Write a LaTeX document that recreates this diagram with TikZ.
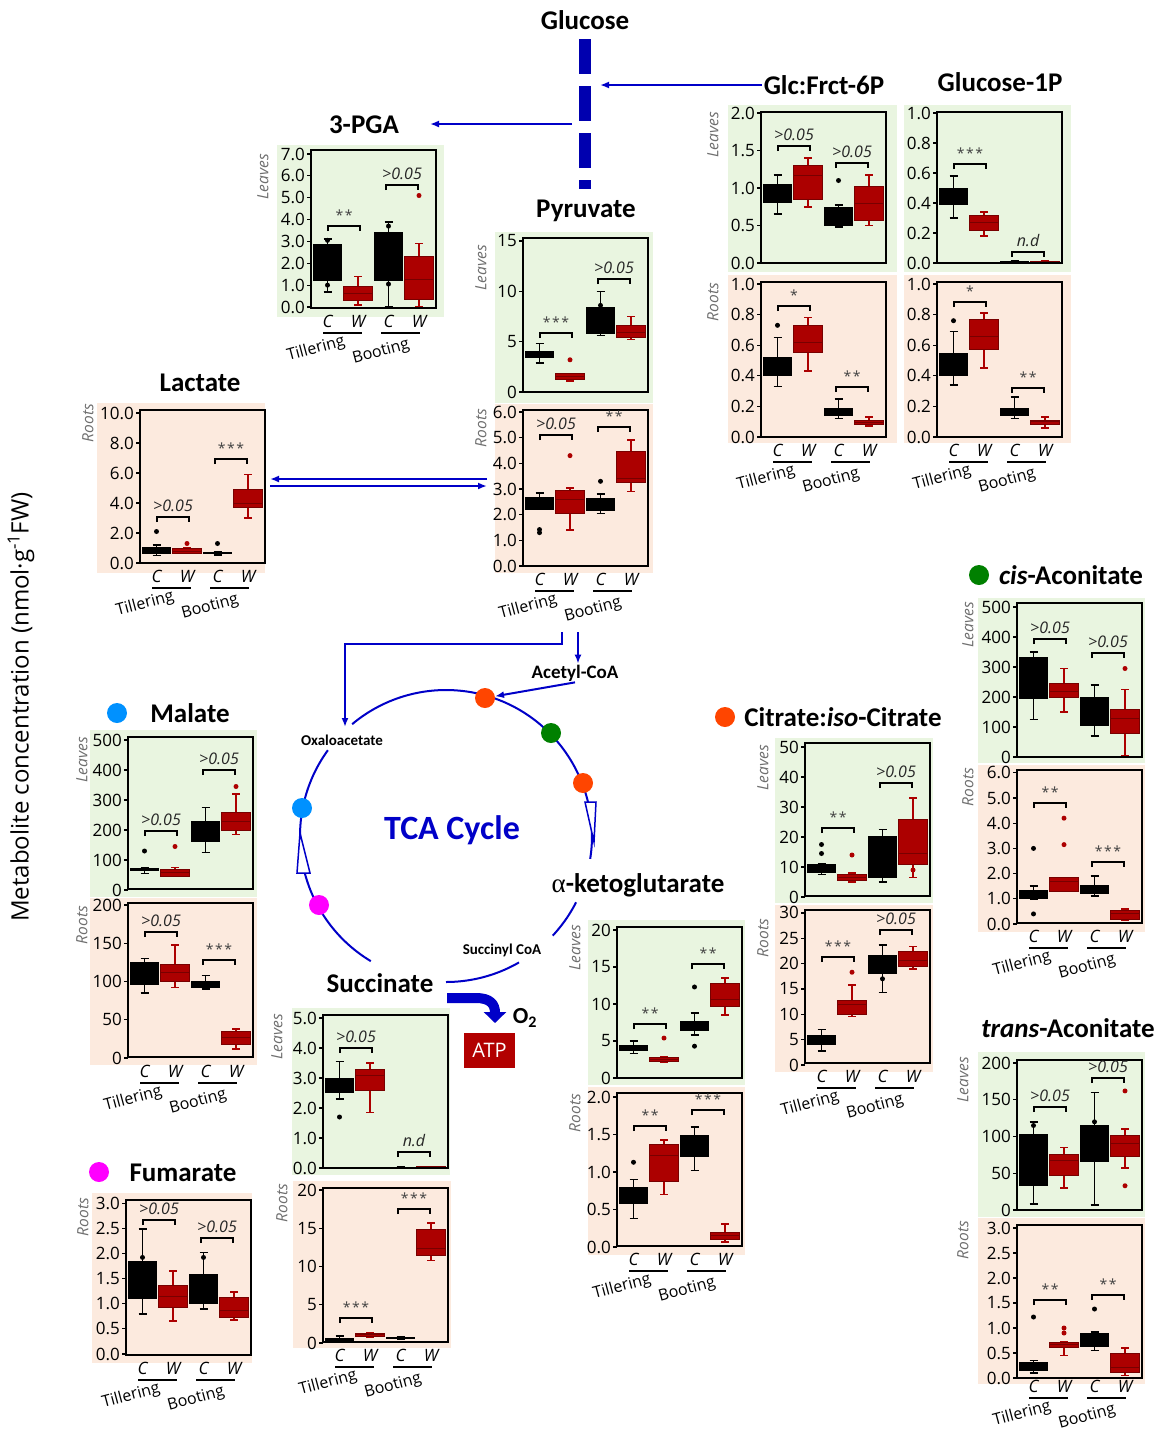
\documentclass[tikz,border=0pt]{standalone}
\usepackage{fontspec}
\setmainfont{Open Sans}
\newfontfamily\calfont{Carlito}
\newfontfamily\grkfont{Liberation Serif}
\usetikzlibrary{arrows.meta}
\definecolor{leafbg}{RGB}{233,245,224}
\definecolor{rootbg}{RGB}{252,234,222}
\definecolor{boxred}{RGB}{172,0,0}
\definecolor{boxdark}{RGB}{120,0,0}
\definecolor{pathblue}{RGB}{0,0,200}
\definecolor{barblue}{RGB}{0,0,175}
\definecolor{dotorange}{RGB}{255,69,0}
\definecolor{dotgreen}{RGB}{0,128,0}
\definecolor{dotblue}{RGB}{0,145,255}
\definecolor{dotmag}{RGB}{255,0,255}
\definecolor{atpred}{RGB}{178,0,0}
\definecolor{sidegray}{RGB}{110,110,110}
\newcommand\fsz[1]{\fontsize{#1}{#1}\selectfont}
\def\PL{0}
\tikzset{
  title/.style={font=\calfont\bfseries\fsz{27}, inner sep=2pt},
  ticklab/.style={anchor=east, font=\fsz{17}, inner sep=1.5pt},
  tickln/.style={line width=1.2pt, black},
  frame/.style={draw=black, line width=1.5pt},
  whk/.style={line width=1.6pt, black},
  whr/.style={line width=1.6pt, boxred},
  dotk/.style={circle, fill=black, inner sep=0pt, minimum size=5pt},
  dotr/.style={circle, fill=boxred, inner sep=0pt, minimum size=5pt},
  brk/.style={line width=1.5pt, black},
  sig/.style={anchor=base, font=\itshape\fsz{16}, inner sep=0pt, text=black!85},
  xl/.style={font=\itshape\fsz{17}, inner sep=0pt},
  uline/.style={line width=1.5pt, black},
  stage/.style={font=\fsz{16}, rotate=15, inner sep=0pt},
  side/.style={rotate=90, font=\itshape\fsz{15.5}, text=sidegray, inner sep=0pt},
  mdot/.style={circle, inner sep=0pt, minimum size=20pt, draw=none},
  arr/.style={line width=2pt, pathblue, -{Latex[length=9pt,width=7pt]}},
  cyc/.style={line width=2pt, pathblue},
  small/.style={font=\calfont\bfseries\fsz{15}, inner sep=1pt},
}
\newcommand\tkY[2]{\draw[tickln] (\PL,#1) -- ({\PL-4},#1) node[ticklab]{#2};}
\newcommand\bxK[5]{%
  \draw[whk] ({\PL+16.5+30.5*#1},#4) -- ({\PL+16.5+30.5*#1},#5)
    ({\PL+12.5+30.5*#1},#4) -- ({\PL+20.5+30.5*#1},#4)
    ({\PL+12.5+30.5*#1},#5) -- ({\PL+20.5+30.5*#1},#5);
  \fill[black] ({\PL+2+30.5*#1},#2) rectangle ({\PL+31+30.5*#1},#3);}
\newcommand\bxR[6]{%
  \draw[whr] ({\PL+16.5+30.5*#1},#4) -- ({\PL+16.5+30.5*#1},#5)
    ({\PL+12.5+30.5*#1},#4) -- ({\PL+20.5+30.5*#1},#4)
    ({\PL+12.5+30.5*#1},#5) -- ({\PL+20.5+30.5*#1},#5);
  \filldraw[fill=boxred, draw=boxdark, line width=0.8pt] ({\PL+2+30.5*#1},#2) rectangle ({\PL+31+30.5*#1},#3);
  \draw[boxdark, line width=1pt] ({\PL+2+30.5*#1},#6) -- ({\PL+31+30.5*#1},#6);}
\newcommand\dtK[2]{\node[dotk] at ({\PL+16.5+30.5*#1},#2) {};}
\newcommand\dtR[2]{\node[dotr] at ({\PL+16.5+30.5*#1},#2) {};}
\newcommand\sigbr[3]{%
  \draw[brk] ({\PL+17+58*#1},{#2+5}) -- ({\PL+17+58*#1},#2) -- ({\PL+49+58*#1},#2) -- ({\PL+49+58*#1},{#2+5});
  \node[sig] at ({\PL+33+58*#1},{#2-6}) {#3};}
\newcommand\xlab[1]{%
  \node[xl] at ({\PL+16.5},{#1+13}) {C};
  \node[xl] at ({\PL+47},{#1+13}) {W};
  \node[xl] at ({\PL+77.5},{#1+13}) {C};
  \node[xl] at ({\PL+108},{#1+13}) {W};
  \draw[uline] ({\PL+12},{#1+25}) -- ({\PL+51},{#1+25}) ({\PL+70},{#1+25}) -- ({\PL+109},{#1+25});
  \node[stage] at ({\PL+5},{#1+41}) {Tillering};
  \node[stage] at ({\PL+70},{#1+44}) {Booting};}
\newcommand\slab[3]{\node[side] at (#1,#2) {#3};}
\newcommand\frm[2]{\draw[frame] (\PL,#1) rectangle ({\PL+125},#2);}
\newcommand\stars[1]{{\upshape\fsz{14}\color{black!75}#1}}
\newcommand\stA{\stars{*}}
\newcommand\stB{\stars{*\kern1.5pt*}}
\newcommand\stC{\stars{*\kern1.5pt*\kern1.5pt*}}
\newcommand\pv{>0.05}

\begin{document}
\begin{tikzpicture}[x=1pt,y=-1pt]
\fill[white] (0,0) rectangle (1162,1433);
\useasboundingbox (0,0) rectangle (1162,1433);

% ---------------- titles ----------------
\node[title] (glucose) at (585,20) {Glucose};
\node[title] (pga) at (364,125) {3-PGA};
\node[title] (pyr) at (586,211) {Pyruvate};
\node[title] (glc) at (824,85) {Glc:Frct-6P};
\node[title] (g1p) at (1000,82) {Glucose-1P};
\node[title] (lac) at (200,383) {Lactate};
\node[mdot, fill=dotgreen] (cisdot) at (979,575) {};
\node[title] (cis) at (1071,575) {\textit{cis}-Aconitate};
\node[mdot, fill=dotblue] (maldot) at (117,713) {};
\node[title] (mal) at (190,713) {Malate};
\node[mdot, fill=dotorange] (citdot) at (725,717) {};
\node[title] (cit) at (843,717) {Citrate:\textit{iso}-Citrate};
\node[title] (akg) at (638,885) {{\grkfont\mdseries α}-ketoglutarate};
\node[title] (suc) at (380,983) {Succinate};
\node[mdot, fill=dotmag] (fumdot) at (99,1172) {};
\node[title] (fum) at (183,1173) {Fumarate};
\node[title] (trans) at (1068,1028) {\textit{trans}-Aconitate};
\node[rotate=90, font=\fsz{24}, inner sep=0pt] (ylab) at (21,707) {Metabolite concentration (nmol·g\textsuperscript{-1}FW)};

% ---------------- glycolysis connectors ----------------
\coordinate (barTop) at (585,39);
\coordinate (barBot) at (585,189);
\draw[barblue, line width=12pt, dash pattern=on 35pt off 12pt] (barTop) -- (barBot);
\coordinate (glcIn) at (600,85);
\draw[arr] (glc.west) -- (glcIn);
\coordinate (pgaOut) at (572,124);
\coordinate (pgaIn) at (430,124);
\draw[arr] (pgaOut) -- (pgaIn);
\coordinate (lacR) at (270,479);
\coordinate (pyrL) at (487,479);
\draw[arr] (pyrL) -- (lacR);
\draw[arr] ([yshift=-7pt]lacR) -- ([yshift=-7pt]pyrL);

% ================= 3-PGA =================
\def\PL{311}
\fill[leafbg] (277,145) rectangle (444,317);
\begin{scope}[shift={(0,307)},yscale=-21.86]
\foreach \v/\t in {0/0.0,1/1.0,2/2.0,3/3.0,4/4.0,5/5.0,6/6.0,7/7.0}{\tkY{\v}{\t}}
\bxK{0}{1.2}{2.9}{0.7}{3.1}\dtK{0}{1.0}\dtK{0}{3.05}
\bxR{1}{0.3}{0.95}{0.1}{1.4}{0.6}
\bxK{2}{1.2}{3.45}{0}{3.9}\dtK{2}{3.7}\dtK{2}{1.05}
\bxR{3}{0.35}{2.3}{0}{2.9}{1.25}\dtR{3}{5.1}
\end{scope}
\frm{150}{308}
\sigbr{0}{226}{\stB}
\sigbr{1}{185}{\pv}
\slab{263}{177}{Leaves}
\xlab{308}

% ================= Pyruvate =================
\def\PL{523}
\fill[leafbg] (495,232) rectangle (653,403);
\begin{scope}[shift={(0,392)},yscale=-10.07]
\foreach \v/\t in {0/0,5/5,10/10,15/15}{\tkY{\v}{\t}}
\bxK{0}{3.4}{4.1}{2.9}{4.8}
\bxR{1}{1.3}{1.8}{1.1}{1.8}{1.5}\dtR{1}{3.2}
\bxK{2}{5.8}{8.4}{5.6}{10}\dtK{2}{8.6}
\bxR{3}{5.4}{6.6}{5.2}{7.5}{5.9}
\end{scope}
\frm{238}{392}
\sigbr{0}{333}{\stC}
\sigbr{1}{279}{\pv}
\slab{481}{268}{Leaves}
\fill[rootbg] (495,404) rectangle (653,573);
\begin{scope}[shift={(0,566)},yscale=-25.67]
\foreach \v/\t in {0/0.0,1/1.0,2/2.0,3/3.0,4/4.0,5/5.0,6/6.0}{\tkY{\v}{\t}}
\bxK{0}{2.2}{2.7}{2.2}{2.85}\dtK{0}{1.3}\dtK{0}{1.42}
\bxR{1}{2.05}{2.95}{1.4}{3.05}{2.6}\dtR{1}{4.3}
\bxK{2}{2.15}{2.65}{2.05}{2.8}\dtK{2}{3.3}
\bxR{3}{3.25}{4.45}{2.9}{4.9}{3.4}
\end{scope}
\frm{410}{566}
\sigbr{0}{435}{\pv}
\sigbr{1}{427}{\stB}
\slab{481}{428}{Roots}
\xlab{566}

% ================= Glc:Frct-6P =================
\def\PL{761}
\fill[leafbg] (728,105) rectangle (897,272);
\begin{scope}[shift={(0,263)},yscale=-75]
\foreach \v/\t in {0/0.0,0.5/0.5,1/1.0,1.5/1.5,2/2.0}{\tkY{\v}{\t}}
\bxK{0}{0.8}{1.05}{0.65}{1.17}
\bxR{1}{0.85}{1.3}{0.75}{1.4}{1.17}
\bxK{2}{0.5}{0.75}{0.48}{0.77}\dtK{2}{1.1}
\bxR{3}{0.57}{1.02}{0.5}{1.17}{0.8}
\end{scope}
\frm{112}{263}
\sigbr{0}{146}{\pv}
\sigbr{1}{163}{\pv}
\slab{713}{135}{Leaves}
\fill[rootbg] (728,275) rectangle (897,443);
\begin{scope}[shift={(0,437)},yscale=-153]
\foreach \v/\t in {0/0.0,0.2/0.2,0.4/0.4,0.6/0.6,0.8/0.8,1/1.0}{\tkY{\v}{\t}}
\bxK{0}{0.4}{0.52}{0.33}{0.65}\dtK{0}{0.73}
\bxR{1}{0.55}{0.73}{0.43}{0.78}{0.62}
\bxK{2}{0.14}{0.19}{0.12}{0.25}
\bxR{3}{0.08}{0.11}{0.07}{0.13}{0.095}
\end{scope}
\frm{282}{437}
\sigbr{0}{306}{\stA}
\sigbr{1}{387}{\stB}
\slab{713}{302}{Roots}
\xlab{437}

% ================= Glucose-1P =================
\def\PL{937}
\fill[leafbg] (904,105) rectangle (1071,272);
\begin{scope}[shift={(0,263)},yscale=-150]
\foreach \v/\t in {0/0.0,0.2/0.2,0.4/0.4,0.6/0.6,0.8/0.8,1/1.0}{\tkY{\v}{\t}}
\bxK{0}{0.39}{0.5}{0.3}{0.58}
\bxR{1}{0.22}{0.32}{0.18}{0.34}{0.27}
\bxK{2}{0}{0.012}{0}{0.012}
\bxR{3}{0}{0.012}{0}{0.012}{0.006}
\end{scope}
\frm{112}{263}
\sigbr{0}{164}{\stC}
\sigbr{1}{252}{n.d}
\fill[rootbg] (904,275) rectangle (1071,443);
\begin{scope}[shift={(0,437)},yscale=-153]
\foreach \v/\t in {0/0.0,0.2/0.2,0.4/0.4,0.6/0.6,0.8/0.8,1/1.0}{\tkY{\v}{\t}}
\bxK{0}{0.4}{0.55}{0.34}{0.69}\dtK{0}{0.76}
\bxR{1}{0.57}{0.77}{0.45}{0.81}{0.66}
\bxK{2}{0.14}{0.19}{0.12}{0.26}
\bxR{3}{0.08}{0.11}{0.06}{0.13}{0.1}
\end{scope}
\frm{282}{437}
\sigbr{0}{302}{\stA}
\sigbr{1}{388}{\stB}
\xlab{437}

% ================= Lactate =================
\def\PL{140}
\fill[rootbg] (97,403) rectangle (265,573);
\begin{scope}[shift={(0,563)},yscale=-15]
\foreach \v/\t in {0/0.0,2/2.0,4/4.0,6/6.0,8/8.0,10/10.0}{\tkY{\v}{\t}}
\bxK{0}{0.6}{1.1}{0.5}{1.2}\dtK{0}{2.1}
\bxR{1}{0.65}{0.95}{0.65}{1.0}{0.8}\dtR{1}{1.3}
\bxK{2}{0.6}{0.75}{0.55}{0.75}\dtK{2}{1.3}
\bxR{3}{3.7}{4.9}{3.0}{5.9}{4.0}
\end{scope}
\frm{410}{563}
\sigbr{0}{517}{\pv}
\sigbr{1}{459}{\stC}
\slab{88}{423}{Roots}
\xlab{563}

% ================= cis-Aconitate =================
\def\PL{1017}
\fill[leafbg] (978,598) rectangle (1145,763);
\begin{scope}[shift={(0,757)},yscale=-0.3]
\foreach \v in {0,100,200,300,400,500}{\tkY{\v}{\v}}
\bxK{0}{195}{335}{125}{350}
\bxR{1}{200}{245}{150}{295}{220}
\bxK{2}{105}{200}{70}{240}
\bxR{3}{80}{160}{5}{225}{130}\dtR{3}{295}
\end{scope}
\frm{603}{757}
\sigbr{0}{639}{\pv}
\sigbr{1}{653}{\pv}
\slab{968}{625}{Leaves}
\fill[rootbg] (978,765) rectangle (1145,932);
\begin{scope}[shift={(0,924)},yscale=-25.2]
\foreach \v/\t in {0/0.0,1/1.0,2/2.0,3/3.0,4/4.0,5/5.0,6/6.0}{\tkY{\v}{\t}}
\bxK{0}{1.0}{1.35}{1.0}{1.5}\dtK{0}{3.0}\dtK{0}{0.4}
\bxR{1}{1.3}{1.85}{1.3}{1.85}{1.7}\dtR{1}{3.15}\dtR{1}{4.2}
\bxK{2}{1.2}{1.55}{1.1}{1.9}
\bxR{3}{0.2}{0.55}{0.15}{0.6}{0.4}
\end{scope}
\frm{770}{923}
\sigbr{0}{803}{\stB}
\sigbr{1}{862}{\stC}
\slab{968}{787}{Roots}
\xlab{923}

% ================= Malate =================
\def\PL{128}
\fill[leafbg] (90,730) rectangle (257,897);
\begin{scope}[shift={(0,890)},yscale=-0.3]
\foreach \v in {0,100,200,300,400,500}{\tkY{\v}{\v}}
\bxK{0}{65}{75}{55}{75}\dtK{0}{130}
\bxR{1}{45}{70}{45}{75}{60}\dtR{1}{145}
\bxK{2}{160}{230}{125}{275}
\bxR{3}{200}{260}{185}{320}{230}\dtR{3}{345}
\end{scope}
\frm{737}{889}
\sigbr{0}{831}{\pv}
\sigbr{1}{770}{\pv}
\slab{82}{760}{Leaves}
\fill[rootbg] (90,898) rectangle (257,1065);
\begin{scope}[shift={(0,1058)},yscale=-0.765]
\foreach \v in {0,50,100,150,200}{\tkY{\v}{\v}}
\bxK{0}{95}{125}{85}{130}
\bxR{1}{100}{122}{92}{148}{112}
\bxK{2}{92}{101}{90}{108}
\bxR{3}{18}{35}{12}{38}{27}
\end{scope}
\frm{903}{1057}
\sigbr{0}{932}{\pv}
\sigbr{1}{960}{\stC}
\slab{82}{925}{Roots}
\xlab{1058}

% ================= Citrate =================
\def\PL{805}
\fill[leafbg] (775,738) rectangle (933,903);
\begin{scope}[shift={(0,897)},yscale=-3]
\foreach \v in {0,10,20,30,40,50}{\tkY{\v}{\v}}
\bxK{0}{8}{11}{7.5}{11}\dtK{0}{14.5}\dtK{0}{17.5}
\bxR{1}{5.5}{7.5}{5}{8}{6.5}\dtR{1}{14}
\bxK{2}{6.5}{20.5}{5}{22.5}
\bxR{3}{11}{26}{6.5}{33}{14.5}\dtR{3}{9}
\end{scope}
\frm{743}{896}
\sigbr{0}{828}{\stB}
\sigbr{1}{783}{\pv}
\slab{763}{768}{Leaves}
\fill[rootbg] (775,905) rectangle (933,1072);
\begin{scope}[shift={(0,1065)},yscale=-5.07]
\foreach \v in {0,5,10,15,20,25,30}{\tkY{\v}{\v}}
\bxK{0}{4}{6}{2.8}{7}
\bxR{1}{10}{12.8}{9.6}{15.8}{12}\dtR{1}{18.3}
\bxK{2}{18}{21.7}{14.3}{23.7}\dtK{2}{17}
\bxR{3}{19.5}{22.5}{18.9}{23.4}{20.7}
\end{scope}
\frm{910}{1063}
\sigbr{0}{957}{\stC}
\sigbr{1}{930}{\pv}
\slab{763}{938}{Roots}
\xlab{1063}

% ================= alpha-ketoglutarate =================
\def\PL{617}
\fill[leafbg] (588,920) rectangle (745,1085);
\begin{scope}[shift={(0,1078)},yscale=-7.4]
\foreach \v in {0,5,10,15,20}{\tkY{\v}{\v}}
\bxK{0}{3.6}{4.4}{3.3}{5.0}
\bxR{1}{2.2}{2.8}{2.1}{2.8}{2.5}\dtR{1}{5.4}
\bxK{2}{6.3}{7.7}{5.8}{8.8}\dtK{2}{12.3}\dtK{2}{4.3}
\bxR{3}{9.7}{12.8}{8.5}{13.5}{10.6}
\end{scope}
\frm{927}{1078}
\sigbr{0}{1024}{\stB}
\sigbr{1}{964}{\stB}
\slab{575}{948}{Leaves}
\fill[rootbg] (588,1087) rectangle (745,1255);
\begin{scope}[shift={(0,1247)},yscale=-75]
\foreach \v/\t in {0/0.0,0.5/0.5,1/1.0,1.5/1.5,2/2.0}{\tkY{\v}{\t}}
\bxK{0}{0.57}{0.8}{0.38}{0.9}\dtK{0}{1.13}
\bxR{1}{0.87}{1.37}{0.7}{1.43}{1.22}
\bxK{2}{1.2}{1.5}{1.02}{1.6}
\bxR{3}{0.1}{0.2}{0.07}{0.31}{0.15}
\end{scope}
\frm{1093}{1246}
\sigbr{0}{1126}{\stB}
\sigbr{1}{1110}{\stC}
\slab{575}{1113}{Roots}
\xlab{1246}

% ================= Succinate =================
\def\PL{323}
\fill[leafbg] (292,1008) rectangle (450,1175);
\begin{scope}[shift={(0,1168)},yscale=-30]
\foreach \v/\t in {0/0.0,1/1.0,2/2.0,3/3.0,4/4.0,5/5.0}{\tkY{\v}{\t}}
\bxK{0}{2.5}{3.0}{2.3}{3.55}\dtK{0}{1.7}
\bxR{1}{2.6}{3.3}{1.85}{3.5}{3.1}
\bxK{2}{0}{0.05}{0}{0.05}
\bxR{3}{0}{0.05}{0}{0.05}{0.02}
\end{scope}
\frm{1015}{1168}
\sigbr{0}{1048}{\pv}
\sigbr{1}{1152}{n.d}
\slab{277}{1037}{Leaves}
\fill[rootbg] (293,1181) rectangle (451,1348);
\begin{scope}[shift={(0,1343)},yscale=-7.65]
\foreach \v in {0,5,10,15,20}{\tkY{\v}{\v}}
\bxK{0}{0.3}{0.6}{0.1}{0.9}
\bxR{1}{0.9}{1.3}{0.8}{1.4}{1.1}
\bxK{2}{0.55}{0.75}{0.5}{0.8}
\bxR{3}{11.5}{14.9}{10.8}{15.7}{12.3}
\end{scope}
\frm{1188}{1342}
\sigbr{0}{1318}{\stC}
\sigbr{1}{1209}{\stC}
\slab{282}{1203}{Roots}
\xlab{1342}

% ================= Fumarate =================
\def\PL{126}
\fill[rootbg] (92,1193) rectangle (252,1363);
\begin{scope}[shift={(0,1354)},yscale=-50.3]
\foreach \v/\t in {0/0.0,0.5/0.5,1/1.0,1.5/1.5,2/2.0,2.5/2.5,3/3.0}{\tkY{\v}{\t}}
\bxK{0}{1.1}{1.85}{0.8}{2.48}\dtK{0}{1.92}
\bxR{1}{0.93}{1.37}{0.66}{1.65}{1.15}
\bxK{2}{1.0}{1.6}{0.9}{2.02}\dtK{2}{1.92}
\bxR{3}{0.72}{1.12}{0.68}{1.23}{0.87}
\end{scope}
\frm{1200}{1355}
\sigbr{0}{1220}{\pv}
\sigbr{1}{1238}{\pv}
\slab{83}{1217}{Roots}
\xlab{1355}

% ================= trans-Aconitate =================
\def\PL{1017}
\fill[leafbg] (978,1052) rectangle (1145,1217);
\begin{scope}[shift={(0,1210)},yscale=-0.735]
\foreach \v in {0,50,100,150,200}{\tkY{\v}{\v}}
\bxK{0}{32}{103}{8}{120}\dtK{0}{115}
\bxR{1}{47}{76}{30}{85}{67}
\bxK{2}{66}{115}{7}{160}\dtK{2}{120}
\bxR{3}{73}{102}{57}{110}{90}\dtR{3}{162}\dtR{3}{33}
\end{scope}
\frm{1060}{1210}
\sigbr{0}{1107}{\pv}
\sigbr{1}{1078}{\pv}
\slab{963}{1080}{Leaves}
\fill[rootbg] (978,1218) rectangle (1145,1384);
\begin{scope}[shift={(0,1378)},yscale=-50.0]
\foreach \v/\t in {0/0.0,0.5/0.5,1/1.0,1.5/1.5,2/2.0,2.5/2.5,3/3.0}{\tkY{\v}{\t}}
\bxK{0}{0.15}{0.32}{0.1}{0.35}\dtK{0}{1.22}
\bxR{1}{0.62}{0.72}{0.45}{0.72}{0.67}\dtR{1}{0.9}\dtR{1}{1.0}
\bxK{2}{0.62}{0.9}{0.55}{0.92}\dtK{2}{1.38}
\bxR{3}{0.12}{0.5}{0.05}{0.6}{0.22}
\end{scope}
\frm{1225}{1378}
\sigbr{0}{1300}{\stB}
\sigbr{1}{1295}{\stB}
\slab{963}{1240}{Roots}
\xlab{1373}

% ================= TCA cycle =================
\draw[cyc] plot[domain=-9:130, samples=90] ({446+146*cos(\x)},{836-146*sin(\x)});
\draw[cyc] plot[domain=144:239, samples=60] ({446+146*cos(\x)},{836-146*sin(\x)});
\draw[cyc] plot[domain=270:300, samples=20] ({446+146*cos(\x)},{836-146*sin(\x)});
\draw[cyc] plot[domain=317:333, samples=12] ({446+146*cos(\x)},{836-146*sin(\x)});
\filldraw[line width=1.5pt, draw=pathblue, fill=white] (585,802) -- (596,802) -- (594,842) -- cycle;
\filldraw[line width=1.5pt, draw=pathblue, fill=white] (297,873) -- (310,873) -- (300,833) -- cycle;
\node[mdot, fill=dotorange] (dtop) at (485,698) {};
\node[mdot, fill=dotgreen] (dgreen) at (551,733) {};
\node[mdot, fill=dotorange] (dright) at (583,783) {};
\node[mdot, fill=dotblue] (dleft) at (302,808) {};
\node[mdot, fill=dotmag] (dmag) at (319,905) {};
\node[font=\calfont\bfseries\fsz{34}, text=pathblue] (tca) at (452,830) {TCA Cycle};
\node[small] (oxa) at (342,740) {Oxaloacetate};
\node[small] (sucoa) at (502,950) {Succinyl CoA};
\node[font=\calfont\bfseries\fsz{19}, inner sep=1pt] (acoa) at (575,673) {Acetyl-CoA};

\coordinate (pyrOut1) at (562,632);
\coordinate (oxaIn) at (345,727);
\draw[arr] (pyrOut1) -- ++(0,12) -| (oxaIn);
\coordinate (pyrOut2) at (578,632);
\draw[arr] (pyrOut2) -- (pyrOut2 |- acoa.north);
\draw[arr] (acoa.south) -- (dtop);

\coordinate (sucOut) at (447,998);
\coordinate (o2In) at (495,1023);
\draw[line width=10pt, pathblue, -{Triangle[length=11pt,width=22pt]}] (sucOut) -- (476,998) .. controls (490,998) and (495,1004) .. (o2In);
\node[font=\calfont\bfseries\fsz{23}, inner sep=0pt] (o2) at (525,1018) {O\textsubscript{2}};
\node[fill=atpred, text=white, minimum width=51pt, minimum height=35pt, inner sep=0pt, font=\fsz{20}] (atp) at (489.5,1050.5) {ATP};
\end{tikzpicture}
\end{document}
